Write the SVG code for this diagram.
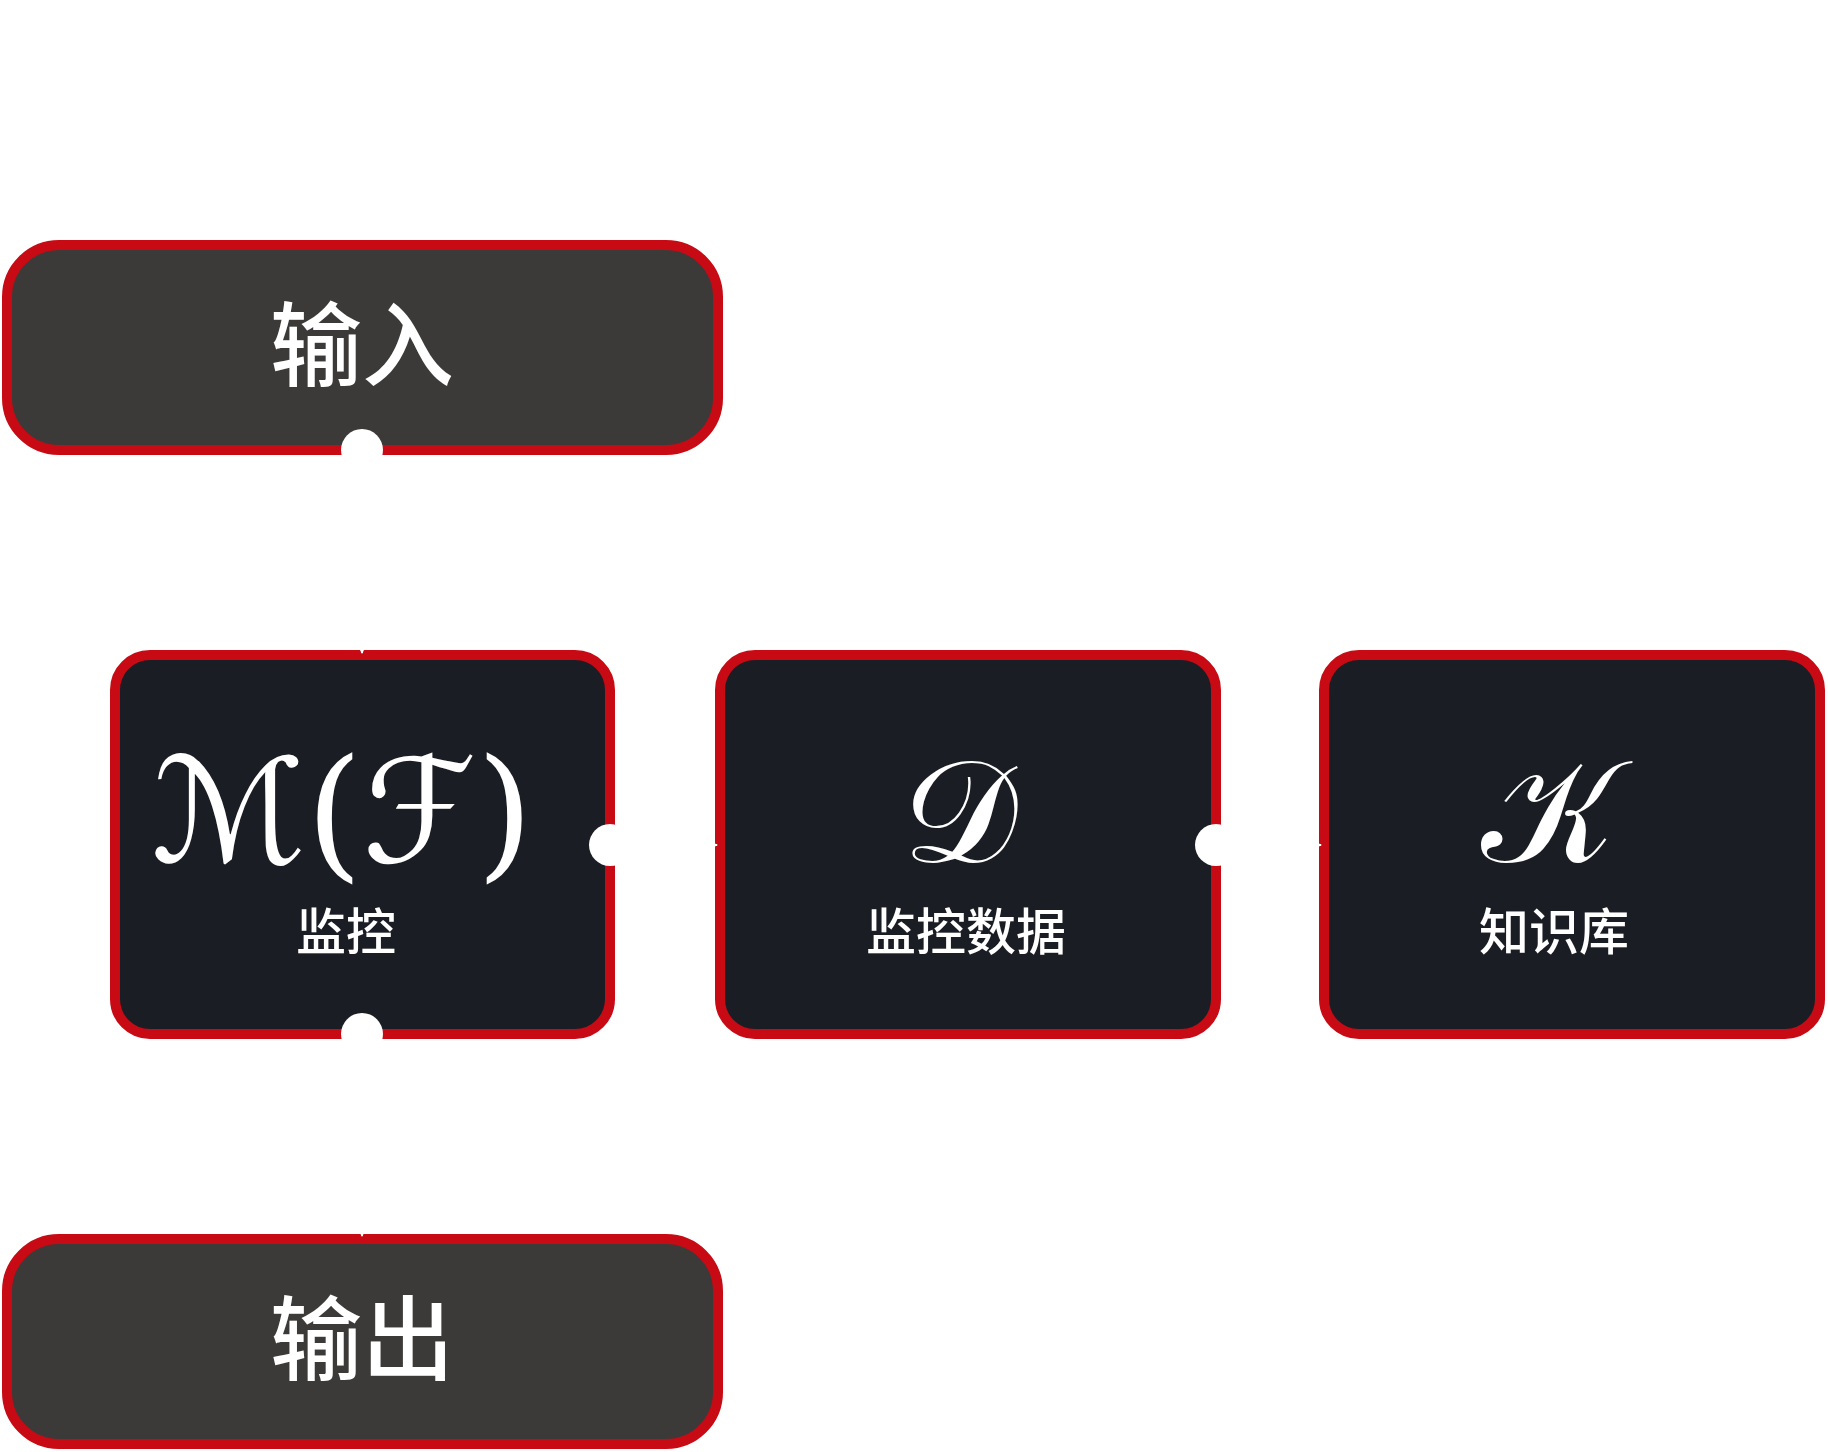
<svg xmlns="http://www.w3.org/2000/svg" width="1828" height="1452" viewBox="0 0 1828 1452">
<style>
.io{fill:#3c3a38;stroke:#c80a14;stroke-width:10}
.mid{fill:#1a1d24;stroke:#c80a14;stroke-width:10}
.big{font-family:"Noto Sans CJK SC","Noto Sans",sans-serif;font-weight:500;font-size:92px;fill:#fff;text-anchor:middle}
.lbl{font-family:"Noto Sans CJK SC","Noto Sans",sans-serif;font-weight:500;font-size:50px;fill:#fff;text-anchor:middle}
.math{font-family:"DejaVu Serif","DejaVu Sans","Noto Sans",serif;font-size:145px;fill:#fff;text-anchor:middle}
.edge{stroke:#fff;stroke-width:2;fill:none;marker-start:url(#dot);marker-end:url(#arr)}
</style>
<defs>
<marker id="arr" markerUnits="userSpaceOnUse" markerWidth="6" markerHeight="6" refX="5" refY="3" orient="auto"><path d="M0,0 L6,3 L0,6 Z" fill="#fff"/></marker>
<marker id="dot" markerUnits="userSpaceOnUse" markerWidth="44" markerHeight="44" refX="22" refY="22" orient="auto"><circle cx="22" cy="22" r="21" fill="#fff"/></marker>
</defs>
<rect width="1828" height="1452" fill="#fff"/>
<g id="node-input">
<rect class="io" x="7" y="245" width="711" height="205" rx="52"/>
<text class="big" x="362" y="379">输入</text>
</g>
<g id="node-monitor">
<rect class="mid" x="115" y="655" width="495" height="379" rx="35"/>
<text class="math" x="342" y="862">ℳ(ℱ)</text>
<text class="lbl" x="346" y="950">监控</text>
</g>
<g id="node-data">
<rect class="mid" x="720" y="655" width="496" height="379" rx="35"/>
<text class="math" x="960" y="862">𝒟</text>
<text class="lbl" x="966" y="950">监控数据</text>
</g>
<g id="node-knowledge">
<rect class="mid" x="1324" y="655" width="496" height="379" rx="35"/>
<text class="math" x="1548" y="862">𝒦</text>
<text class="lbl" x="1554" y="950">知识库</text>
</g>
<g id="node-output">
<rect class="io" x="7" y="1239" width="711" height="205" rx="52"/>
<text class="big" x="362" y="1373">输出</text>
</g>
<g id="connectors">
<path class="edge" d="M362,450 L362,653"/>
<path class="edge" d="M610,845 L717,845"/>
<path class="edge" d="M1216,845 L1321,845"/>
<path class="edge" d="M362,1034 L362,1236"/>
</g>
</svg>
